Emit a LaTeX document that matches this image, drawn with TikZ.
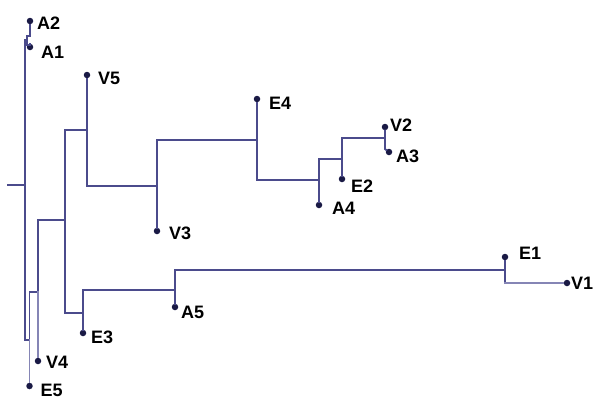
\documentclass[tikz,border=0pt]{standalone}
\usepackage{fontspec}
\setmainfont{Liberation Sans}
\usepackage{tikz}
\usetikzlibrary{calc}
\definecolor{treec}{HTML}{4B4B8C}
\definecolor{twigc}{HTML}{8585B5}
\definecolor{tipc}{HTML}{1A1A45}

\begin{document}
\begin{tikzpicture}[x=1pt, y=-1pt,
  branch/.style={draw=treec, line width=1.9pt, line cap=rect},
  twig/.style={draw=twigc, line width=1.4pt, line cap=rect},
  leaf/.style={circle, fill=tipc, minimum size=6.5pt, inner sep=0pt},
  tag/.style={anchor=west, inner sep=0pt, font=\fontsize{18}{21}\selectfont\bfseries}
]
\useasboundingbox (0,0) rectangle (600,400);
% tips: name/x/y/label dx/label dy
\foreach \n/\x/\y/\dx/\dy in {A2/30/21/7/2, A1/30/47/11/5, V5/87/75/11/3,
    V3/157/231/12/2, E4/257/99/12/4, V2/385/127/5/-2, A3/389/152/7/4,
    E2/342/179/9/7, A4/319/205/13/3, E1/505/257/14/-4, V1/567/283/4/0,
    A5/175/307/6/5, E3/83/333/8/4, V4/38/361/8/1, E5/29.5/386/11/4}{
  \node[leaf] (\n) at (\x,\y) {};
  \node[tag] (t-\n) at (\x+\dx,\y+\dy) {\n};}

% inner junctions
\coordinate (rootin) at (8,185);
\coordinate (root) at (25,185);
\coordinate (jA) at (25,40);
\coordinate (jQ) at (25,340);
\coordinate (nA) at (27,40);
\coordinate (nAt) at (27,36);
\coordinate (nAb) at (27,45);
\coordinate (qT) at (29.5,292);
\coordinate (qM) at (29.5,340);
\coordinate (rT) at (38,220);
\coordinate (rM) at (38,292);
\coordinate (sT) at (65,130);
\coordinate (sM) at (65,220);
\coordinate (sB) at (65,313);
\coordinate (tM) at (87,130);
\coordinate (tB) at (87,186);
\coordinate (uB) at (157,186);
\coordinate (uT) at (157,140);
\coordinate (wM) at (257,140);
\coordinate (wB) at (257,180);
\coordinate (xB) at (319,180);
\coordinate (xT) at (319,159);
\coordinate (yB) at (342,159);
\coordinate (yT) at (342,138);
\coordinate (zM) at (385,138);
\coordinate (zB) at (385,149);
\coordinate (eM) at (83,313);
\coordinate (eT) at (83,290);
\coordinate (fM) at (175,290);
\coordinate (fT) at (175,270);
\coordinate (gM) at (505,270);
\coordinate (gB) at (505,283);

\draw[branch] (rootin) -- (root);
\draw[branch] (jA) -- (jQ);
\draw[branch] (jA) -- (nA);
\draw[branch] (A2) |- (nAt) -- (nAb) -| (A1);
\draw[branch] (jQ) -- (qM);
\draw[branch] (qT) -- (qM);
\draw[twig] (qM) -- (E5);
\draw[branch] (qT) -- (rM);
\draw[branch] (rT) -- (rM);
\draw[twig] (rM) -- (V4);
\draw[branch] (rT) -- (sM);
\draw[branch] (sT) -- (sB);
\draw[branch] (sT) -- (tM);
\draw[branch] (V5) -- (tB) -- (uB);
\draw[branch] (uT) -- (V3);
\draw[branch] (uT) -- (wM);
\draw[branch] (E4) -- (wB) -- (xB);
\draw[branch] (xT) -- (A4);
\draw[branch] (xT) -- (yB);
\draw[branch] (yT) -- (E2);
\draw[branch] (yT) -- (zM);
\draw[branch] (V2) -- (zB) -- (A3);
\draw[branch] (sB) -- (eM);
\draw[branch] (eT) -- (E3);
\draw[branch] (eT) -- (fM);
\draw[branch] (fT) -- (A5);
\draw[branch] (fT) -- (gM);
\draw[branch] (E1) -- (gB);
\draw[twig] (gB) -- (V1);
\end{tikzpicture}
\end{document}
